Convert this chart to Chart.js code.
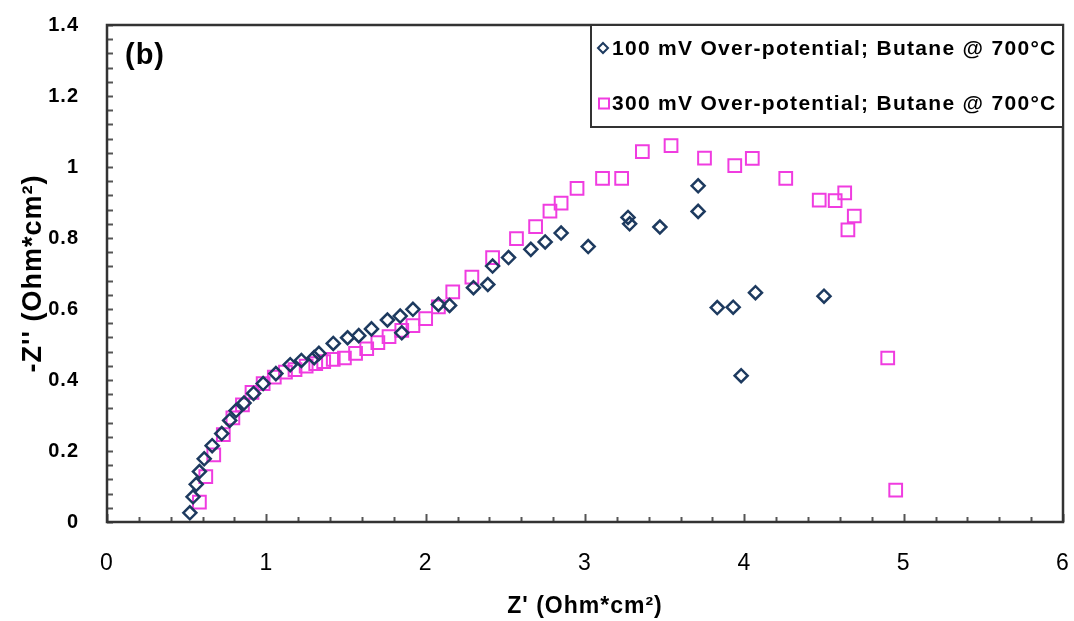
<!DOCTYPE html>
<html>
<head>
<meta charset="utf-8">
<script src="https://cdn.jsdelivr.net/npm/chart.js@4/dist/chart.umd.min.js"></script>
<style>
html,body{margin:0;padding:0;background:#fff;}
canvas{display:block;}
</style>
</head>
<body>
<canvas id="c" width="1074" height="621"></canvas>
<script>
// ---- data ----
const seriesLabels = ['100 mV Over-potential; Butane @ 700°C', '300 mV Over-potential; Butane @ 700°C'];
const xTickLabels = ['0','1','2','3','4','5','6'];
const yTickLabels = ['0','0.2','0.4','0.6','0.8','1','1.2','1.4'];

const z100x = [0.52,0.54,0.56,0.58,0.61,0.66,0.72,0.77,0.81,0.86,0.92,0.98,1.06,1.15,1.22,1.30,1.33,1.42,1.51,1.58,1.66,1.76,1.84,1.85,1.92,2.08,2.15,2.30,2.39,2.42,2.52,2.66,2.75,2.85,3.02,3.27,3.28,3.47,3.71,3.71,3.83,3.93,3.98,4.07,4.50];
const z100y = [0.026,0.071,0.106,0.142,0.178,0.215,0.249,0.286,0.314,0.335,0.362,0.390,0.418,0.443,0.455,0.463,0.475,0.503,0.519,0.525,0.544,0.569,0.580,0.533,0.599,0.613,0.610,0.660,0.669,0.721,0.745,0.768,0.789,0.814,0.776,0.858,0.840,0.831,0.947,0.875,0.604,0.605,0.412,0.646,0.636];

const z300x = [0.58,0.62,0.67,0.73,0.79,0.85,0.91,0.98,1.05,1.12,1.18,1.25,1.31,1.36,1.42,1.49,1.56,1.63,1.70,1.77,1.85,1.92,2.00,2.08,2.17,2.29,2.42,2.57,2.69,2.78,2.85,2.95,3.11,3.23,3.36,3.54,3.75,3.94,4.05,4.26,4.47,4.57,4.63,4.69,4.65,4.90,4.95];
const z300y = [0.056,0.128,0.189,0.246,0.293,0.330,0.365,0.390,0.408,0.422,0.429,0.439,0.446,0.452,0.458,0.462,0.475,0.488,0.505,0.522,0.540,0.553,0.573,0.606,0.648,0.690,0.745,0.798,0.832,0.876,0.898,0.940,0.968,0.968,1.043,1.060,1.025,1.004,1.024,0.968,0.907,0.905,0.927,0.862,0.823,0.462,0.090];

const toPts = (xs, ys) => xs.map((x, i) => ({x: x, y: ys[i]}));

const FONT = '"Liberation Sans", Arial, sans-serif';
const navy = '#1d3a5f';
const pink = '#f03ce0';

const canvas = document.getElementById('c');
const ctx0 = canvas.getContext('2d');
ctx0.letterSpacing = '1px';

// frame, inside ticks, panel label
const framePlugin = {
  id: 'frame',
  beforeDraw(chart) { chart.ctx.letterSpacing = '1px'; },
  afterDatasetsDraw(chart) {
    const {ctx, chartArea: a, scales: {x, y}} = chart;
    ctx.save();
    ctx.strokeStyle = '#555';
    ctx.lineWidth = 2;
    for (let i = 0; i <= 30; i++) {
      const v = i * 0.2;
      const px = Math.round(x.getPixelForValue(v)) + 0.5;
      const len = (i % 5 === 0) ? 8 : 5;
      ctx.beginPath(); ctx.moveTo(px, a.bottom); ctx.lineTo(px, a.bottom - len); ctx.stroke();
    }
    for (let i = 0; i <= 35; i++) {
      const v = i * 0.04;
      const py = Math.round(y.getPixelForValue(v)) + 0.5;
      ctx.beginPath(); ctx.moveTo(a.left, py); ctx.lineTo(a.left + 6, py); ctx.stroke();
    }
    ctx.strokeStyle = '#333';
    ctx.lineWidth = 2.5;
    ctx.strokeRect(a.left, a.top, a.right - a.left, a.bottom - a.top);
    ctx.fillStyle = '#000';
    ctx.font = 'bold 29px ' + FONT;
    ctx.textBaseline = 'middle';
    ctx.textAlign = 'left';
    ctx.fillText('(b)', 125, 56);
    ctx.restore();
  }
};

// legend box drawn inside plot area (top-right)
const legendPlugin = {
  id: 'boxLegend',
  afterDatasetsDraw(chart) {
    const {ctx, chartArea: a} = chart;
    const bx = 591, by = a.top, bw = a.right - 591, bh = 102;
    ctx.save();
    ctx.fillStyle = '#fff';
    ctx.fillRect(bx, by, bw, bh);
    ctx.strokeStyle = '#333';
    ctx.lineWidth = 2;
    ctx.strokeRect(bx, by, bw, bh);
    const rows = [48, 103];
    chart.data.datasets.forEach((ds, i) => {
      const cy = rows[i];
      ctx.strokeStyle = ds.borderColor;
      ctx.lineWidth = 2;
      ctx.beginPath();
      if (ds.pointStyle === 'rectRot') {
        const r = 5;
        ctx.moveTo(603, cy - r); ctx.lineTo(603 + r, cy); ctx.lineTo(603, cy + r); ctx.lineTo(603 - r, cy); ctx.closePath();
      } else {
        ctx.rect(599, cy - 4.5, 10, 10);
      }
      ctx.stroke();
      ctx.fillStyle = '#000';
      ctx.font = 'bold 21px ' + FONT;
      ctx.letterSpacing = '1.3px';
      ctx.textBaseline = 'middle';
      ctx.textAlign = 'left';
      ctx.fillText(ds.label, 612, cy + 1);
    });
    ctx.restore();
  }
};

new Chart(canvas, {
  type: 'scatter',
  data: {
    datasets: [
      {label: seriesLabels[0], data: toPts(z100x, z100y), pointStyle: 'rectRot', radius: 6.5,
       borderColor: navy, backgroundColor: 'rgba(0,0,0,0)', borderWidth: 2.5, pointHoverRadius: 6.5},
      {label: seriesLabels[1], data: toPts(z300x, z300y), pointStyle: 'rect', radius: 9,
       borderColor: pink, backgroundColor: 'rgba(0,0,0,0)', borderWidth: 2, pointHoverRadius: 9}
    ]
  },
  options: {
    responsive: false,
    animation: false,
    events: [],
    layout: {padding: {left: 0, top: 25, right: 3, bottom: 0}},
    plugins: {legend: {display: false}, tooltip: {enabled: false}},
    scales: {
      x: {
        type: 'linear', min: 0, max: 6,
        afterFit(s) { s.height = 99; s.paddingLeft = 0; s.paddingRight = 0; },
        grid: {display: false, drawTicks: false},
        border: {display: false},
        ticks: {stepSize: 1, padding: 28, color: '#000', font: {family: FONT, size: 23},
                callback: (v) => xTickLabels[Math.round(v)] ?? ''},
        title: {display: true, text: "Z' (Ohm*cm²)", color: '#000', font: {family: FONT, size: 23, weight: 'bold'},
                padding: {top: 0, bottom: 1}}
      },
      y: {
        type: 'linear', min: 0, max: 1.4,
        afterFit(s) { s.width = 107; s.paddingTop = 0; s.paddingBottom = 0; },
        grid: {display: false, drawTicks: false},
        border: {display: false},
        ticks: {stepSize: 0.2, padding: 28, color: '#000', font: {family: FONT, size: 20, weight: 'bold'},
                callback: (v) => yTickLabels[Math.round(v / 0.2)] ?? ''},
        title: {display: true, text: "-Z'' (Ohm*cm²)", color: '#000', font: {family: FONT, size: 27, weight: 'bold'},
                padding: {top: 17, bottom: 0}}
      }
    }
  },
  plugins: [framePlugin, legendPlugin]
});
</script>
</body>
</html>
